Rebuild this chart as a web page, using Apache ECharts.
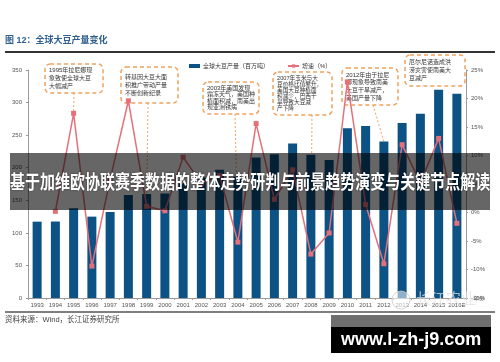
<!DOCTYPE html>
<html><head><meta charset="utf-8">
<script src="https://cdn.jsdelivr.net/npm/echarts@6/dist/echarts.min.js"></script>
<style>html,body{margin:0;padding:0;background:#fff}#c{width:500px;height:362px}</style>
</head><body><div id="c"></div>
<script>
// ---- data ----
const years = ['1993','1994','1995','1996','1997','1998','1999','2000','2001','2002','2003','2004','2005','2006','2007','2008','2009','2010','2011','2012','2013','2014','2015','2016E'];
const production = [117.2,117.4,137.8,124.9,132.2,158.1,159.8,160.3,175.8,184.8,196.9,186.6,215.8,220.7,237.2,219.9,212.0,260.6,264.2,240.3,268.8,282.9,319.7,313.5];
const growth = [null,0.2,17.4,-9.4,5.8,19.6,1.1,0.3,9.7,5.1,6.5,-5.2,15.6,2.3,7.5,-7.3,-3.6,22.9,1.4,-9.0,11.9,5.2,13.0,-1.9];
const leftTicks = [0,50,100,150,200,250,300,350];
const rightTicks = [-15,-10,-5,0,5,10,15,20,25];
const seriesNames = ['全球大豆产量（百万吨）','增速（%）'];
const titleText = '图 12：全球大豆产量变化';
const sourceText = '资料来源：Wind，长江证券研究所';
const bannerText = '基于加维欧协联赛季数据的整体走势研判与前景趋势演变与关键节点解读';
const siteText = 'www.l-zh-j9.com';

// annotation boxes (layout) with targets in data space
const notes = [
  {lines:['1995年拉尼娜现','象致使全球大豆','大幅减产'], box:[45,64,58,29], from:[74,93], target:{i:2, s:'line'}},
  {lines:['转基因大豆大面','积推广带动产量','不断创新纪录'], box:[121,67,57,36], from:[148,103], target:{i:6, s:'line'}},
  {lines:['2003年美国发现','霜冻天气，美国种','植面积减，南美出','现亚洲锈病'], box:[203,82,56,32], from:[235,114], target:{i:11, s:'line'}},
  {lines:['2007年玉米与大','豆价格比值攀升，','美国大豆种植面','积减少，巴西干','旱导致大豆减','产下降'], box:[273,72,59,43], from:[312,115], target:{i:15, s:'line'}},
  {lines:['2012年由于拉尼','娜现象导致南美','大豆干旱减产，','美国产量下降'], box:[342,68,56,37], from:[373,105], target:{i:19, s:'bar'}},
  {lines:['厄尔尼诺造成洪','涝灾害使南美大','豆减产'], box:[405,55,60,31], from:null, target:null}
];

const FONT = '"Liberation Sans","Noto Sans CJK SC",sans-serif';
const chart = echarts.init(document.getElementById('c'), null, {renderer:'canvas'});
const axisColor = '#9a9a9a';
const labelStyle = {fontSize:6, color:'#555', fontFamily:FONT};

const option = {
  animation:false,
  backgroundColor:'#fff',
  grid:{left:28, right:34, top:70, bottom:64},
  legend:{
    data:[{name:seriesNames[0], icon:'rect'}, {name:seriesNames[1]}],
    left:184, top:58, itemGap:18, itemWidth:11, itemHeight:4,
    textStyle:{fontSize:6, color:'#333', fontFamily:FONT, padding:[0,0,0,-2]}
  },
  xAxis:{
    type:'category', data:years,
    axisLine:{lineStyle:{color:axisColor, width:1}},
    axisTick:{show:true, length:2, lineStyle:{color:axisColor}},
    axisLabel:Object.assign({interval:0, margin:4}, labelStyle)
  },
  yAxis:[
    {type:'value', min:leftTicks[0], max:leftTicks[leftTicks.length-1], interval:leftTicks[1]-leftTicks[0],
     splitLine:{show:false}, axisLine:{show:true, lineStyle:{color:axisColor}},
     axisTick:{show:true, length:2, lineStyle:{color:axisColor}},
     axisLabel:Object.assign({margin:6}, labelStyle)},
    {type:'value', min:rightTicks[0], max:rightTicks[rightTicks.length-1], interval:rightTicks[1]-rightTicks[0],
     splitLine:{show:false}, axisLine:{show:true, lineStyle:{color:axisColor}},
     axisTick:{show:true, length:2, lineStyle:{color:axisColor}},
     axisLabel:Object.assign({margin:5, formatter:'{value}%'}, labelStyle)}
  ],
  series:[
    {name:seriesNames[0], type:'bar', data:production, barWidth:9, itemStyle:{color:'#0c5285'}, z:2},
    {name:seriesNames[1], type:'line', yAxisIndex:1, data:growth, connectNulls:true,
     symbol:'rect', symbolSize:5, itemStyle:{color:'#e5707a'}, lineStyle:{color:'#e5707a', width:1.5}, z:5}
  ]
};
chart.setOption(option);

const orange = '#f0a35e';
const g = [];
// title + rules
g.push({type:'text', x:5, y:41, style:{text:titleText, fontSize:9, fontWeight:'bold', fill:'#2e5f8f', fontFamily:FONT, verticalAlign:'middle'}});
g.push({type:'line', shape:{x1:5,y1:52,x2:495,y2:52}, style:{stroke:'#333', lineWidth:2}});
g.push({type:'line', shape:{x1:5,y1:312,x2:495,y2:312}, style:{stroke:'#555', lineWidth:1.5}});
g.push({type:'text', x:5, y:320, style:{text:sourceText, fontSize:7.5, fill:'#444', fontFamily:FONT, verticalAlign:'middle'}});
g.push({type:'text', x:474, y:299, style:{text:'年份', fontSize:5, fill:'#555', fontFamily:FONT, verticalAlign:'middle'}});
// faint watermark
g.push({type:'circle', shape:{cx:401, cy:300, r:9}, style:{fill:'rgba(255,255,255,0.55)', stroke:'rgba(200,200,200,0.8)', lineWidth:1}, z:20});
g.push({type:'text', x:416, y:300, style:{text:'长江农业', fontSize:15, fill:'rgba(225,225,225,0.75)', fontFamily:FONT, verticalAlign:'middle'}, z:20});

// annotations (drawn beneath the series so the line shows through)
notes.forEach(n => {
  const [bx,by,bw,bh] = n.box;
  if (n.target) {
    let pt;
    if (n.target.s === 'line') pt = chart.convertToPixel({seriesIndex:1}, [n.target.i, growth[n.target.i]]);
    else pt = chart.convertToPixel({seriesIndex:0}, [n.target.i, production[n.target.i]]);
    g.push({type:'line', shape:{x1:n.from[0], y1:n.from[1], x2:pt[0], y2:pt[1]}, style:{stroke:orange, lineWidth:1, lineDash:[2,2]}, z:-1});
  }
  g.push({type:'rect', shape:{x:bx, y:by, width:bw, height:bh, r:5}, style:{fill:null, stroke:orange, lineWidth:1.5, lineDash:[4,3]}, z:-1});
  const lh = Math.min(8, (bh-6)/n.lines.length);
  g.push({type:'text', x:bx+4, y:by+bh/2, style:{text:n.lines.join('\n'), fontSize:Math.min(6, lh-0.5), lineHeight:lh, fill:'#333', fontFamily:FONT, verticalAlign:'middle'}, z:-1});
});

// banner overlay
g.push({type:'rect', shape:{x:10, y:153, width:480, height:57}, style:{fill:'rgba(0,0,0,0.6)'}, z:50});
g.push({type:'text', x:10, y:182, scaleX:0.79, style:{text:bannerText, x:0, y:0, fontSize:19, fontWeight:'bold', fill:'#fff', fontFamily:'"Noto Sans CJK SC",sans-serif', verticalAlign:'middle', textShadowColor:'rgba(0,0,0,0.5)', textShadowBlur:2}, z:51});

// site badge
g.push({type:'rect', shape:{x:331, y:315, width:160, height:12}, style:{fill:'#6e6e6e'}, z:50});
g.push({type:'rect', shape:{x:331, y:327, width:160, height:26}, style:{fill:'#000'}, z:50});
g.push({type:'text', x:341, y:340, style:{text:siteText, fontSize:18, fontWeight:'bold', fill:'#fff', fontFamily:'"Liberation Sans",sans-serif', verticalAlign:'middle'}, z:51});

chart.setOption({graphic:{elements:g}});
</script>
</body></html>
